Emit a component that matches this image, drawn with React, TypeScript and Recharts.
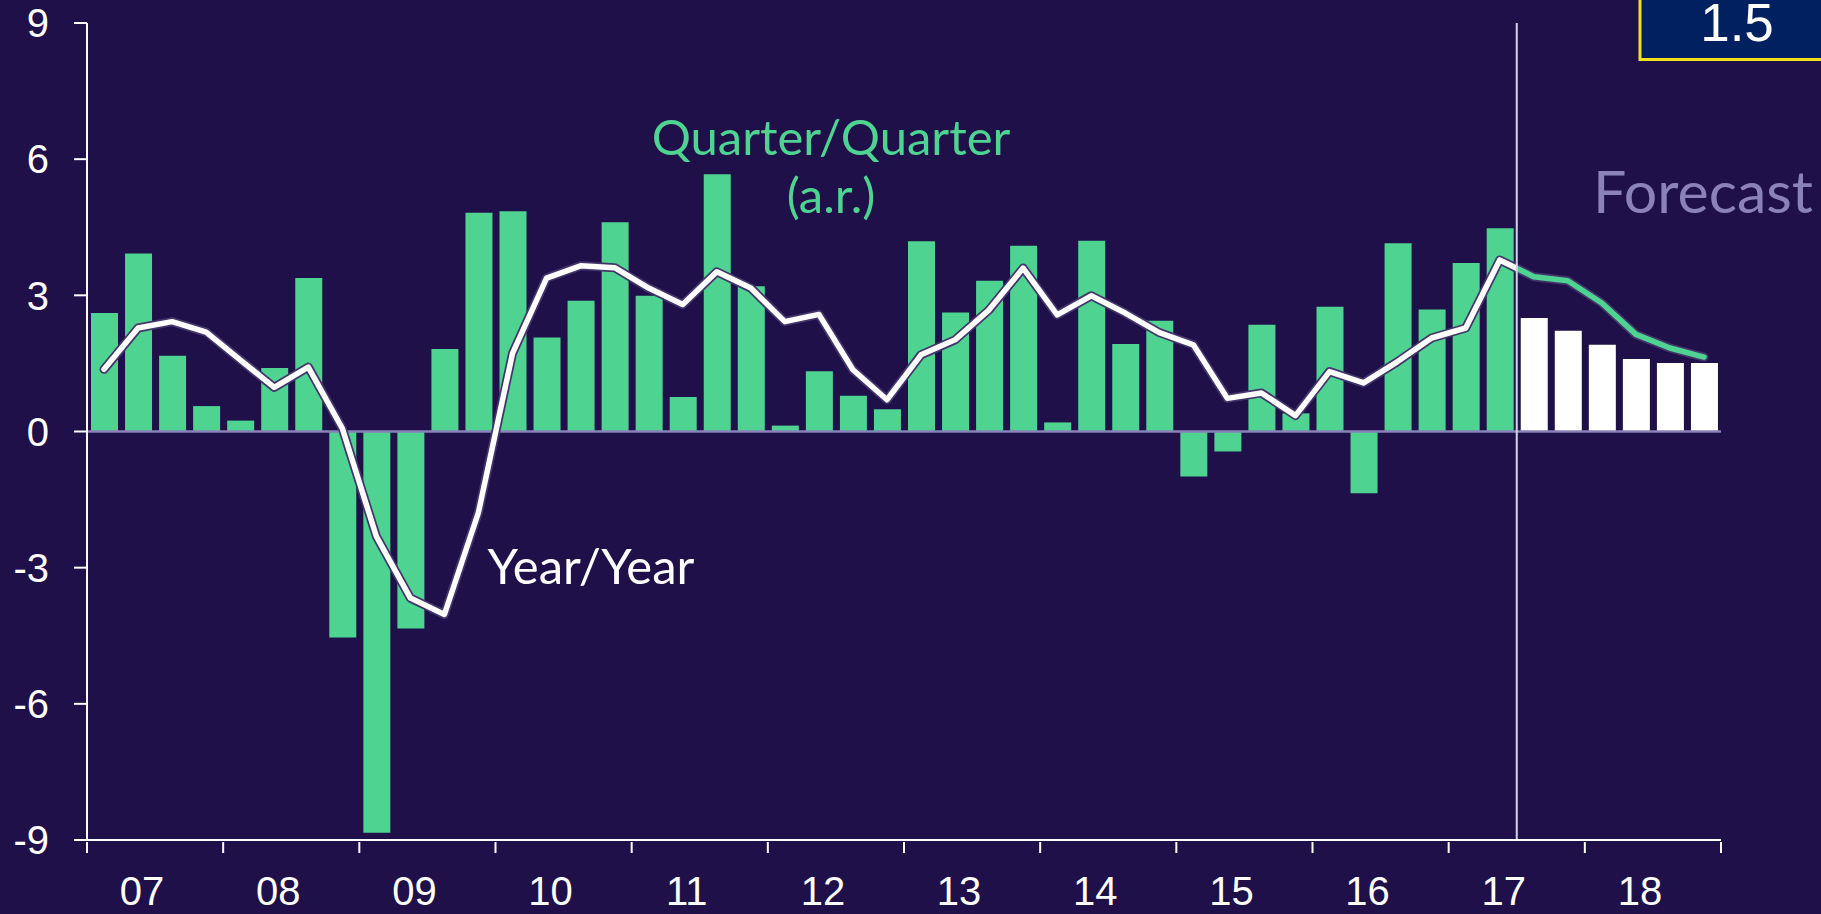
import React from "react";
import {
  Bar,
  Cell,
  ComposedChart,
  Line,
  ReferenceLine,
  XAxis,
  YAxis,
} from "recharts";

// GDP growth, quarterly 2007Q1 - 2018Q4 (last six quarters are forecast)
const YEARS = ["07", "08", "09", "10", "11", "12", "13", "14", "15", "16", "17", "18"];

const QQ_ACTUAL = [
  2.61, 3.92, 1.67, 0.56, 0.24, 1.4, 3.38, -4.54, -8.84, -4.34, 1.82, 4.82,
  4.85, 2.07, 2.88, 4.61, 2.99, 0.76, 5.67, 3.2, 0.13, 1.33, 0.79, 0.49,
  4.19, 2.62, 3.32, 4.09, 0.2, 4.2, 1.93, 2.44, -0.99, -0.44, 2.35, 0.4,
  2.75, -1.36, 4.15, 2.69, 3.71, 4.48,
];

const QQ_FORECAST = [2.5, 2.22, 1.91, 1.6, 1.51, 1.51];

const YOY = [
  1.37, 2.28, 2.42, 2.19, 1.58, 0.97, 1.42, 0.07, -2.31, -3.67, -4.03, -1.78,
  1.72, 3.38, 3.65, 3.61, 3.16, 2.8, 3.52, 3.16, 2.42, 2.58, 1.36, 0.7,
  1.69, 2.02, 2.68, 3.6, 2.57, 2.99, 2.61, 2.18, 1.91, 0.73, 0.85, 0.35,
  1.32, 1.07, 1.54, 2.06, 2.28, 3.78, 3.41, 3.32, 2.83, 2.14, 1.84, 1.64,
];

const Y_TICKS = [-9, -6, -3, 0, 3, 6, 9];

const BG = "#1f1049";
const GREEN = "#4ed391";
const OUTLINE = "#43356c";
const LAVENDER = "#8a82b8";
const AXIS_FONT = "'Liberation Sans', Arial, sans-serif";
const NOTE_FONT = "Lato, 'Open Sans', sans-serif";

const qqAll = [...QQ_ACTUAL, ...QQ_FORECAST];
const data = qqAll.map((qq, i) => ({ x: i + 0.5, qq, yoy: YOY[i] }));

// x ticks: year boundaries (tick marks) and year centres (labels)
const X_TICKS: number[] = [];
for (let q = 0; q <= YEARS.length * 4; q += 2) X_TICKS.push(q);

const forecastStart = QQ_ACTUAL.length;
// where the line turns from white to green, as a fraction of its length
const splitAt = (forecastStart - 0.5) / (YOY.length - 1);

function YearTick(props: any) {
  const { x, y, payload } = props;
  const v = payload.value as number;
  if (v % 4 === 0) {
    return <line x1={x} x2={x} y1={y + 2} y2={y + 13} stroke="#fff" strokeWidth={2} />;
  }
  return (
    <text
      x={x - 13}
      y={y + 65}
      textAnchor="middle"
      fill="#fff"
      fontSize={40}
      fontFamily={AXIS_FONT}
    >
      {YEARS[(v - 2) / 4]}
    </text>
  );
}

export default function App() {
  return (
    <div
      style={{
        position: "absolute",
        left: 0,
        top: 0,
        width: 1821,
        height: 914,
        background: BG,
        overflow: "hidden",
      }}
    >
      <ComposedChart
        width={1821}
        height={914}
        data={data}
        margin={{ top: 23, right: 100, bottom: 0, left: 0 }}
      >
        <defs>
          <linearGradient id="yoy-stroke" x1="0" y1="0" x2="1" y2="0">
            <stop offset={0} stopColor="#ffffff" />
            <stop offset={splitAt} stopColor="#ffffff" />
            <stop offset={splitAt} stopColor={GREEN} />
            <stop offset={1} stopColor={GREEN} />
          </linearGradient>
        </defs>
        <XAxis
          dataKey="x"
          type="number"
          domain={[0, YEARS.length * 4]}
          ticks={X_TICKS}
          interval={0}
          height={74}
          tickSize={0}
          tickMargin={0}
          tickLine={false}
          axisLine={{ stroke: "#fff", strokeWidth: 2 }}
          tick={<YearTick />}
        />
        <YAxis
          type="number"
          domain={[-9, 9]}
          ticks={Y_TICKS}
          interval={0}
          width={87}
          tickSize={13}
          tickMargin={25}
          axisLine={{ stroke: "#fff", strokeWidth: 2 }}
          tickLine={{ stroke: "#fff", strokeWidth: 2 }}
          tick={{ fill: "#fff", fontSize: 40, fontFamily: AXIS_FONT }}
        />
        <Bar dataKey="qq" barSize={27} isAnimationActive={false}>
          {data.map((d, i) => (
            <Cell key={d.x} fill={i >= forecastStart ? "#ffffff" : GREEN} />
          ))}
        </Bar>
        <ReferenceLine y={0} stroke={LAVENDER} strokeWidth={2.5} />
        <Line
          dataKey="yoy"
          type="linear"
          stroke={OUTLINE}
          strokeWidth={9}
          strokeLinecap="round"
          strokeLinejoin="round"
          dot={false}
          activeDot={false}
          isAnimationActive={false}
        />
        <Line
          dataKey="yoy"
          type="linear"
          stroke="url(#yoy-stroke)"
          strokeWidth={5.5}
          strokeLinecap="round"
          strokeLinejoin="round"
          dot={false}
          activeDot={false}
          isAnimationActive={false}
        />
        <ReferenceLine x={forecastStart} stroke="#d6d2e6" strokeWidth={2} />
      </ComposedChart>

      <svg
        width={1821}
        height={914}
        style={{ position: "absolute", left: 0, top: 0, pointerEvents: "none" }}
      >
        <text x={831} y={155} textAnchor="middle" fill={GREEN} fontSize={49} fontFamily={NOTE_FONT}>
          Quarter/Quarter
        </text>
        <text x={831} y={213} textAnchor="middle" fill={GREEN} fontSize={49} fontFamily={NOTE_FONT}>
          (a.r.)
        </text>
        <text x={591} y={584} textAnchor="middle" fill="#fff" fontSize={49} fontFamily={NOTE_FONT}>
          Year/Year
        </text>
        <text x={1703} y={213} textAnchor="middle" fill={LAVENDER} fontSize={59} fontFamily={NOTE_FONT}>
          Forecast
        </text>
        <rect x={1640} y={-10} width={200} height={69.5} fill="#002060" stroke="#f2e21a" strokeWidth={3} />
        <text x={1737} y={41} textAnchor="middle" fill="#fff" fontSize={53} fontFamily={AXIS_FONT}>
          1.5
        </text>
      </svg>
    </div>
  );
}
